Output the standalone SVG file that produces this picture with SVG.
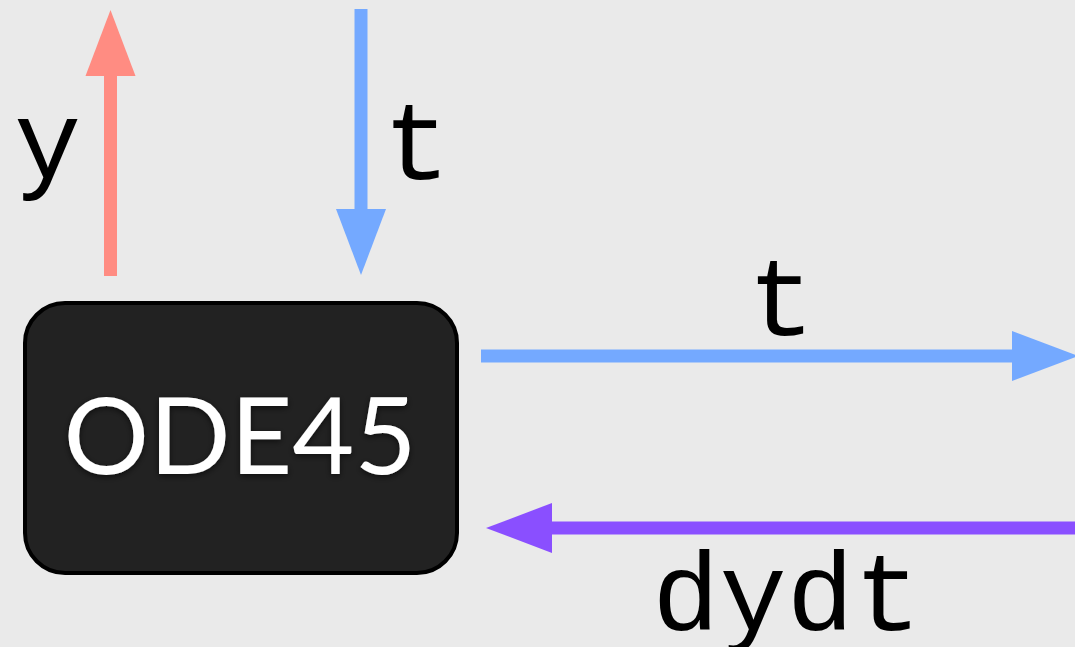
<svg xmlns="http://www.w3.org/2000/svg" width="1075" height="647" viewBox="0 0 1075 647">
  <style>
    .lbl { font-family: "Liberation Mono", "Courier New", monospace; font-size: 112px; fill: #000; text-anchor: middle; }
    .node-text { font-family: Lato, "Open Sans", sans-serif; font-size: 107px; fill: #fff; text-anchor: middle; }
    .box { fill: #222222; stroke: #000; stroke-width: 4; }
    .red { stroke: #FF8C82; stroke-width: 13; fill: none; }
    .blue { stroke: #74A9FF; stroke-width: 13; fill: none; }
    .purple { stroke: #8A4FFF; stroke-width: 13; fill: none; }
  </style>
  <defs>
    <marker id="hRed" markerUnits="userSpaceOnUse" markerWidth="66" markerHeight="50" refX="0" refY="25" orient="auto" overflow="visible">
      <path d="M0,0 L66,25 L0,50 Z" fill="#FF8C82"/>
    </marker>
    <marker id="hBlue" markerUnits="userSpaceOnUse" markerWidth="66" markerHeight="50" refX="0" refY="25" orient="auto" overflow="visible">
      <path d="M0,0 L66,25 L0,50 Z" fill="#74A9FF"/>
    </marker>
    <marker id="hPurple" markerUnits="userSpaceOnUse" markerWidth="66" markerHeight="50" refX="0" refY="25" orient="auto" overflow="visible">
      <path d="M0,0 L66,25 L0,50 Z" fill="#8A4FFF"/>
    </marker>
    <filter id="glow" x="-10%" y="-20%" width="120%" height="140%">
      <feDropShadow dx="0" dy="2" stdDeviation="3" flood-color="#000" flood-opacity="0.6"/>
    </filter>
  </defs>
  <rect width="1075" height="647" fill="#EAEAEA"/>

  <g id="connectors">
    <g id="edge-y">
      <line class="red" x1="110.5" y1="276" x2="110.5" y2="76" marker-end="url(#hRed)"/>
      <text class="lbl" x="47.5" y="178">y</text>
    </g>
    <g id="edge-t-in">
      <line class="blue" x1="361" y1="9" x2="361" y2="209" marker-end="url(#hBlue)"/>
      <text class="lbl" x="416.5" y="179">t</text>
    </g>
    <g id="edge-t-out">
      <line class="blue" x1="481" y1="356" x2="1012" y2="356" marker-end="url(#hBlue)"/>
      <text class="lbl" x="781" y="335">t</text>
    </g>
    <g id="edge-dydt">
      <line class="purple" x1="1075" y1="528" x2="552" y2="528" marker-end="url(#hPurple)"/>
      <text class="lbl" x="786.7" y="630">dydt</text>
    </g>
  </g>

  <g id="node-ode45">
    <rect class="box" x="25" y="303" width="432" height="270" rx="40" ry="40"/>
    <text class="node-text" x="240" y="474" filter="url(#glow)">ODE45</text>
  </g>
</svg>
